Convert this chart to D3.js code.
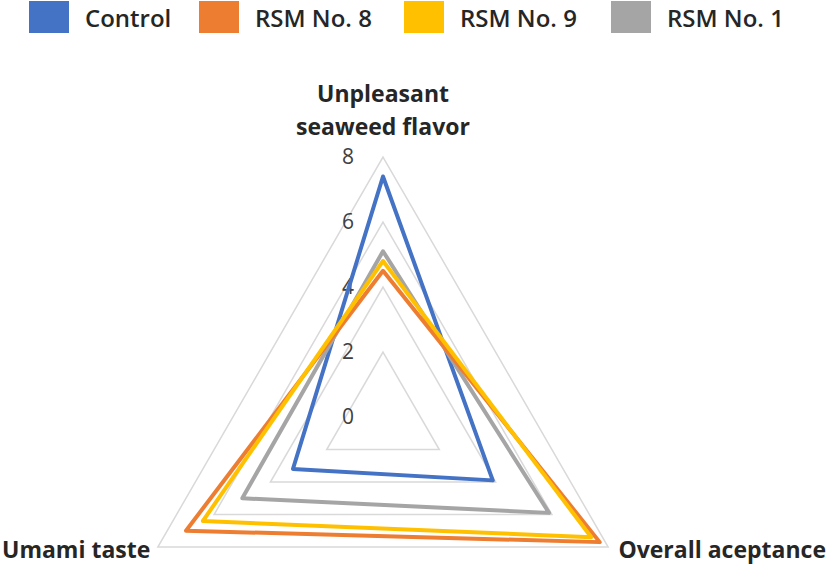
<!DOCTYPE html>
<html>
<head>
<meta charset="utf-8">
<script src="https://cdn.jsdelivr.net/npm/d3@7"></script>
<style>
  body { margin: 0; background: #fff; }
  svg { display: block; }
</style>
</head>
<body>
<div id="chart"></div>
<script>
// sensory radar chart, 3 attributes x 4 samples

var width = 827,
	height = 567;

var axes_labels = [
	["Unpleasant", "seaweed flavor"],
	["Overall aceptance"],
	["Umami taste"]
];

var series_names = ["Control", "RSM No. 8", "RSM No. 9", "RSM No. 1"];
var series_colors = ["#4472C4", "#ED7D31", "#FFC000", "#A5A5A5"];

// values in axis order: unpleasant, overall, umami
var control_vals = [7.4, 3.9, 3.2];
var rsm8_vals = [4.5, 7.7, 7.0];
var rsm9_vals = [4.8, 7.4, 6.4];
var rsm1_vals = [5.1, 5.9, 5.0];

var tick_vals = [0, 2, 4, 6, 8];

var series = [
	{name: series_names[0], color: series_colors[0], values: control_vals},
	{name: series_names[1], color: series_colors[1], values: rsm8_vals},
	{name: series_names[2], color: series_colors[2], values: rsm9_vals},
	{name: series_names[3], color: series_colors[3], values: rsm1_vals}
];

var cx = 383, cy = 417;

var r = d3.scaleLinear()
	.domain([0, 8])
	.range([0, 260]);

function angle(i) {
	return -Math.PI / 2 + i * 2 * Math.PI / 3;
}

function point(i, v) {
	return [Math.cos(angle(i)) * r(v), Math.sin(angle(i)) * r(v)];
}

var svg = d3.select("#chart")
	.append("svg")
	.attr("width", width)
	.attr("height", height)
	.style("font-family", "'Open Sans', sans-serif");

var g = svg.append("g")
	.attr("transform", "translate(" + [cx, cy] + ")");

// grid triangles
var line = d3.line().curve(d3.curveLinearClosed);

g.selectAll(".grid")
	.data(tick_vals.filter(function(d) { return d > 0; }))
	.enter().append("path")
	.attr("class", "grid")
	.attr("d", function(d) {
		return line([0, 1, 2].map(function(i) { return point(i, d); }));
	})
	.attr("fill", "none")
	.attr("stroke", "#d9d9d9")
	.attr("stroke-width", 1.5);

// tick labels on the top axis
g.selectAll(".tick")
	.data(tick_vals)
	.enter().append("text")
	.attr("class", "tick")
	.attr("x", -35)
	.attr("y", function(d) { return -r(d); })
	.attr("dy", "0.35em")
	.attr("text-anchor", "middle")
	.attr("fill", "#404040")
	.style("font-size", "21px")
	.text(function(d) { return d; });

// series lines, Control first, then others on top
var draw_order = [0, 3, 1, 2];

g.selectAll(".series")
	.data(draw_order.map(function(k) { return series[k]; }))
	.enter().append("path")
	.attr("class", "series")
	.attr("d", function(d) {
		return line(d.values.map(function(v, i) { return point(i, v); }));
	})
	.attr("fill", "none")
	.attr("stroke", function(d) { return d.color; })
	.attr("stroke-width", 4)
	.attr("stroke-linejoin", "round");

// axis labels
var label_style = function(sel) {
	sel.attr("fill", "#262626")
		.style("font-size", "23px")
		.style("font-weight", "700");
};

var top_label = svg.append("text")
	.attr("text-anchor", "middle")
	.call(label_style);
top_label.selectAll("tspan")
	.data(axes_labels[0])
	.enter().append("tspan")
	.attr("x", cx)
	.attr("y", function(d, i) { return 102 + i * 33; })
	.text(function(d) { return d; });

svg.append("text")
	.attr("x", 826)
	.attr("y", 558)
	.attr("text-anchor", "end")
	.call(label_style)
	.text(axes_labels[1][0]);

svg.append("text")
	.attr("x", 2)
	.attr("y", 558)
	.attr("text-anchor", "start")
	.call(label_style)
	.text(axes_labels[2][0]);

// legend
var legend_x = [29, 199, 404, 611];

var legend = svg.selectAll(".legend")
	.data(series)
	.enter().append("g")
	.attr("class", "legend")
	.attr("transform", function(d, i) {
		return "translate(" + [legend_x[i], 1] + ")";
	});

legend.append("rect")
	.attr("width", 40)
	.attr("height", 32)
	.attr("fill", function(d) { return d.color; });

legend.append("text")
	.attr("x", 56)
	.attr("y", 26)
	.attr("fill", "#262626")
	.style("font-size", "24px")
	.style("font-weight", "600")
	.text(function(d) { return d.name; });
</script>
</body>
</html>
